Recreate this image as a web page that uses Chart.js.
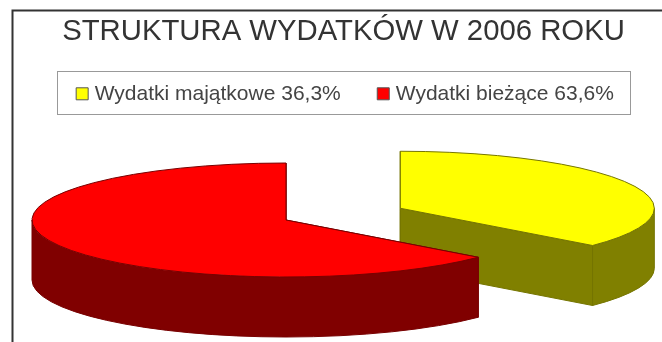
<!DOCTYPE html>
<html>
<head>
<meta charset="utf-8">
<title>Struktura wydatków</title>
<script src="https://cdn.jsdelivr.net/npm/chart.js@4"></script>
<style>
    html, body { margin: 0; padding: 0; background: #fff; }
    canvas { display: block; }
</style>
</head>
<body>
<canvas id="expenses" width="662" height="342"></canvas>
<script>
// Expenditure structure, 2006
const categories = ['Wydatki majątkowe', 'Wydatki bieżące'];
const shares = [36.3, 63.6];
const faceColors = ['#ffff00', '#ff0000'];
const wallColors = ['#808000', '#800000'];
const edgeColors = ['#757500', '#780000'];
const explode = [0.495, 0];

// Ellipse the flat pie is projected onto
const PIE = { cx: 286, cy: 220, rx: 254, ry: 57, depth: 60 };
const FONT = 'Liberation Sans';

const sliceLabels = categories.map((name, i) => `${name} ${String(shares[i]).replace('.', ',')}%`);

function wallPath(ctx, x, y, from, to) {
    ctx.beginPath();
    ctx.ellipse(x, y, PIE.rx, PIE.ry, 0, from, to);
    ctx.ellipse(x, y + PIE.depth, PIE.rx, PIE.ry, 0, to, from, true);
    ctx.closePath();
}

function radialPath(ctx, x, y, angle) {
    const rimX = x + Math.cos(angle) * PIE.rx;
    const rimY = y + Math.sin(angle) * PIE.ry;
    ctx.beginPath();
    ctx.moveTo(x, y);
    ctx.lineTo(rimX, rimY);
    ctx.lineTo(rimX, rimY + PIE.depth);
    ctx.lineTo(x, y + PIE.depth);
    ctx.closePath();
}

function paint(ctx, fill, edge) {
    ctx.fillStyle = fill;
    ctx.fill();
    ctx.strokeStyle = edge;
    ctx.lineWidth = 1;
    ctx.stroke();
}

function drawSlice(ctx, arc, i) {
    const mid = (arc.startAngle + arc.endAngle) / 2;
    const x = PIE.cx + Math.cos(mid) * explode[i] * PIE.rx;
    const y = PIE.cy + Math.sin(mid) * explode[i] * PIE.ry;

    // Cut faces first, the rim wall goes over them
    [arc.startAngle, arc.endAngle].forEach(angle => {
        radialPath(ctx, x, y, angle);
        paint(ctx, wallColors[i], edgeColors[i]);
    });

    // Only the part of the rim facing the viewer
    const from = Math.max(arc.startAngle, 0);
    const to = Math.min(arc.endAngle, Math.PI);
    if (to > from) {
        wallPath(ctx, x, y, from, to);
        paint(ctx, wallColors[i], edgeColors[i]);
    }

    // Top face: the library's own arc, squashed onto the ellipse
    ctx.save();
    ctx.translate(x, y);
    ctx.scale(PIE.rx / arc.outerRadius, PIE.ry / arc.outerRadius);
    ctx.translate(-arc.x, -arc.y);
    arc.draw(ctx);
    ctx.restore();

    ctx.beginPath();
    ctx.moveTo(x, y);
    ctx.ellipse(x, y, PIE.rx, PIE.ry, 0, arc.startAngle, arc.endAngle);
    ctx.closePath();
    ctx.strokeStyle = edgeColors[i];
    ctx.lineWidth = 1;
    ctx.stroke();
}

const pie3d = {
    id: 'pie3d',
    afterLayout(chart) {
        // Legend row sits a little off the title's centre line
        chart.legend.top -= 3.5;
        chart.legend.left += 3.5;
        chart.legend.right += 3.5;
    },
    beforeDraw(chart) {
        const ctx = chart.ctx;
        // Frame, open on the right and at the bottom
        ctx.save();
        ctx.strokeStyle = '#333';
        ctx.lineWidth = 2;
        ctx.beginPath();
        ctx.moveTo(12.5, 342);
        ctx.lineTo(12.5, 10.5);
        ctx.lineTo(662, 10.5);
        ctx.stroke();
        // Legend box
        ctx.strokeStyle = '#999';
        ctx.lineWidth = 1;
        ctx.strokeRect(57.5, 71.5, 573, 43);
        ctx.restore();
    },
    beforeDatasetDraw(chart, args) {
        const ctx = chart.ctx;
        ctx.save();
        args.meta.data.forEach((arc, i) => drawSlice(ctx, arc, i));
        ctx.restore();
        return false;
    }
};

new Chart(document.getElementById('expenses'), {
    type: 'pie',
    data: {
        labels: sliceLabels,
        datasets: [{
            data: shares,
            backgroundColor: faceColors,
            borderWidth: 0
        }]
    },
    options: {
        responsive: false,
        animation: false,
        layout: { padding: { left: 25 } },
        plugins: {
            title: {
                display: true,
                text: 'STRUKTURA WYDATKÓW W 2006 ROKU',
                color: '#333',
                font: { family: FONT, size: 29.3, weight: 'normal', lineHeight: 1 },
                padding: { top: 17, bottom: 0 }
            },
            legend: {
                display: true,
                position: 'top',
                labels: {
                    color: '#444',
                    font: { family: FONT, size: 21 },
                    usePointStyle: true,
                    pointStyle: 'rect',
                    boxWidth: 4,
                    boxHeight: 12,
                    padding: 40.5,
                    generateLabels(chart) {
                        return Chart.overrides.doughnut.plugins.legend.labels.generateLabels(chart)
                            .map(item => ({ ...item, lineWidth: 1, strokeStyle: '#555' }));
                    }
                }
            },
            tooltip: { enabled: false }
        }
    },
    plugins: [pie3d]
});
</script>
</body>
</html>
